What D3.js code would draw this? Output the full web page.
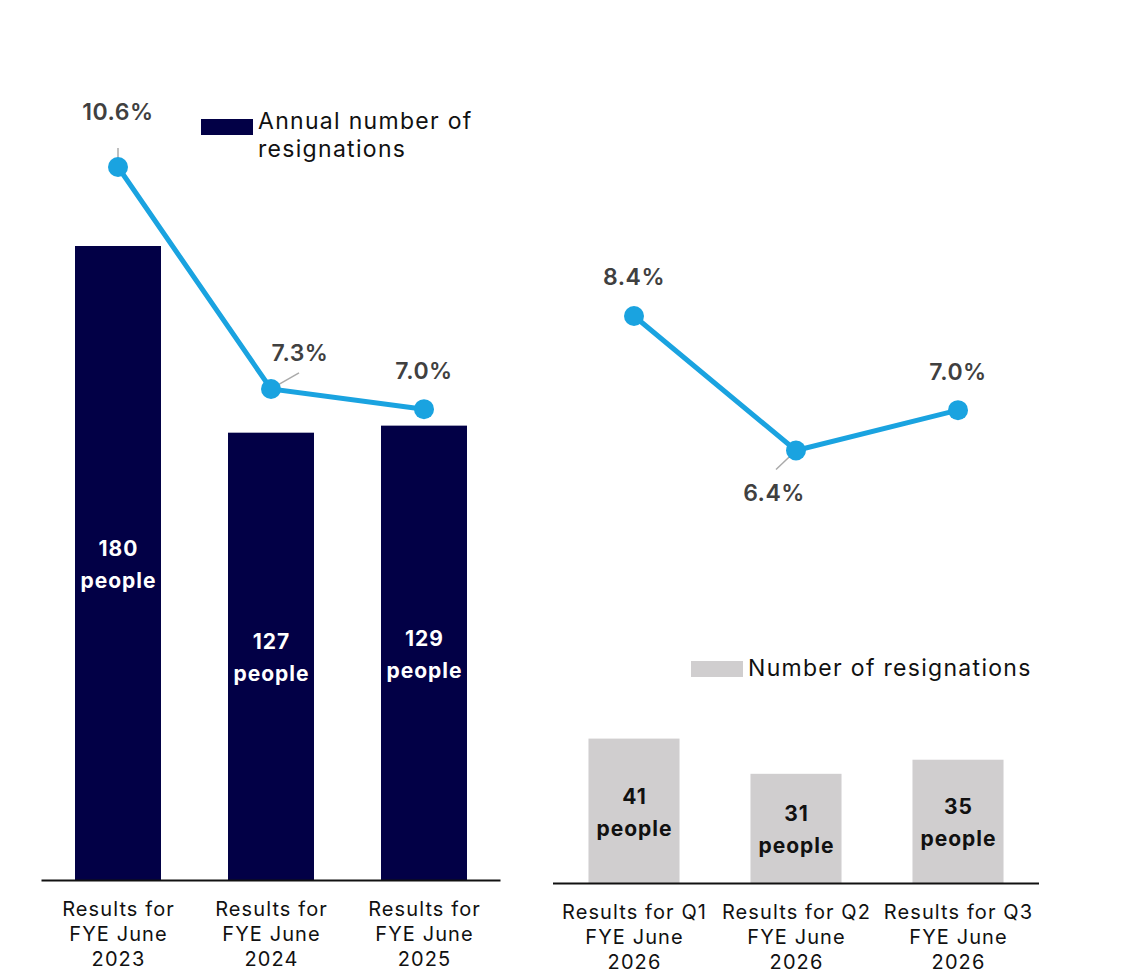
<!DOCTYPE html>
<html>
<head>
<meta charset="utf-8">
<script src="https://cdn.jsdelivr.net/npm/d3@7"></script>
<style>
  body { margin: 0; background: #fff; }
  svg { font-family: "Inter", "Noto Sans", sans-serif; }
</style>
</head>
<body>
<div id="chart"></div>
<script>
// Annual results
const annualCats = ["Results for|FYE June|2023", "Results for|FYE June|2024", "Results for|FYE June|2025"];
const annualCounts = [180, 127, 129];
const annualRates = [10.6, 7.3, 7.0];

// Quarterly results
const quarterCats = ["Results for Q1|FYE June|2026", "Results for Q2|FYE June|2026", "Results for Q3|FYE June|2026"];
const quarterCounts = [41, 31, 35];
const quarterRates = [8.4, 6.4, 7.0];

const navy = "#020046", grey = "#d0cecf", blue = "#1aa3e0", labelGrey = "#404040";

const svg = d3.select("#chart").append("svg")
    .attr("width", 1127)
    .attr("height", 980);

// shared value scales (heights in px)
const hCount = d3.scaleLinear().domain([0, 180]).range([0, 634]);
const hRate = d3.scaleLinear().domain([0, 10.6]).range([0, 713]);

function drawPanel(opts) {
    const x = d3.scaleBand()
        .domain(opts.cats)
        .range(opts.xRange)
        .paddingInner(0.438)
        .paddingOuter(0.219);
    const base = opts.base;
    const g = svg.append("g");

    // bars
    g.selectAll("rect.bar")
        .data(opts.counts)
        .join("rect")
        .attr("class", "bar")
        .attr("x", (d, i) => x(opts.cats[i]))
        .attr("y", d => base - hCount(d))
        .attr("width", x.bandwidth())
        .attr("height", d => hCount(d))
        .attr("fill", opts.barColor);

    // bar labels
    const cx = i => x(opts.cats[i]) + x.bandwidth() / 2;
    const bl = g.selectAll("text.blab")
        .data(opts.counts)
        .join("text")
        .attr("class", "blab")
        .attr("text-anchor", "middle")
        .attr("fill", opts.barText)
        .style("font-size", "21px")
        .style("font-weight", 700)
        .style("letter-spacing", "1px");
    bl.append("tspan")
        .attr("x", (d, i) => cx(i) + 0.5)
        .attr("y", d => base - hCount(d) / 2 - 7)
        .text(d => d);
    bl.append("tspan")
        .attr("x", (d, i) => cx(i) + 0.5)
        .attr("y", d => base - hCount(d) / 2 + 25)
        .text("people");

    // axis line
    g.append("line")
        .attr("x1", opts.xRange[0]).attr("x2", opts.xRange[1])
        .attr("y1", base + 0.5).attr("y2", base + 0.5)
        .attr("stroke", "#111").attr("stroke-width", 2);

    // category labels, one text per line
    opts.cats.forEach(c => {
        c.split("|").forEach((s, j) => {
            g.append("text")
                .attr("class", "cat")
                .attr("text-anchor", "middle")
                .attr("fill", "#111")
                .style("font-size", "20px")
                .style("letter-spacing", "1.1px")
                .attr("x", x(c) + x.bandwidth() / 2 + 0.5)
                .attr("y", base + 36 + j * 25)
                .text(s);
        });
    });

    // rate line
    const pts = opts.rates.map((r, i) => [cx(i), base - opts.rateLift - hRate(r)]);
    g.append("path")
        .attr("d", d3.line()(pts))
        .attr("fill", "none")
        .attr("stroke", blue)
        .attr("stroke-width", 5);

    // leader lines
    opts.leaders.forEach((l, i) => {
        if (!l) return;
        g.append("line")
            .attr("x1", pts[i][0]).attr("y1", pts[i][1])
            .attr("x2", pts[i][0] + l[0]).attr("y2", pts[i][1] + l[1])
            .attr("stroke", "#aaa").attr("stroke-width", 1.5);
    });

    g.selectAll("circle")
        .data(pts)
        .join("circle")
        .attr("cx", d => d[0]).attr("cy", d => d[1])
        .attr("r", 10)
        .attr("fill", blue);

    // rate labels
    g.selectAll("text.rate")
        .data(opts.rates)
        .join("text")
        .attr("class", "rate")
        .attr("text-anchor", "middle")
        .attr("fill", labelGrey)
        .style("font-size", "23px")
        .style("font-weight", 600)
        .style("letter-spacing", "0.5px")
        .attr("x", (d, i) => pts[i][0] + opts.rateOff[i][0])
        .attr("y", (d, i) => pts[i][1] + opts.rateOff[i][1])
        .attr("dy", "0.35em")
        .text(d => d.toFixed(1) + "%");

    // legend
    g.append("rect")
        .attr("x", opts.legend.x).attr("y", opts.legend.y)
        .attr("width", 52).attr("height", 16)
        .attr("fill", opts.barColor);
    opts.legend.lines.forEach((s, i) => {
        g.append("text")
            .attr("fill", "#111")
            .style("font-size", "23px")
            .style("letter-spacing", "1.3px")
            .attr("x", opts.legend.x + 57)
            .attr("y", opts.legend.baseline + i * 28)
            .text(s);
    });
}

drawPanel({
    cats: annualCats, counts: annualCounts, rates: annualRates,
    xRange: [41.5, 500.5], base: 880, rateLift: 0, barColor: navy, barText: "#fff",
    rateOff: [[0, -55], [29, -36], [0, -38]],
    leaders: [[0, -19], [28, -16], null],
    legend: { x: 201, y: 119, baseline: 129, lines: ["Annual number of", "resignations"] }
});

drawPanel({
    cats: quarterCats, counts: quarterCounts, rates: quarterRates,
    xRange: [553, 1039], base: 883, rateLift: 2, barColor: grey, barText: "#111",
    rateOff: [[0, -39], [-22, 42], [0, -38]],
    leaders: [null, [-20, 19], null],
    legend: { x: 691, y: 661, baseline: 676, lines: ["Number of resignations"] }
});
</script>
</body>
</html>
